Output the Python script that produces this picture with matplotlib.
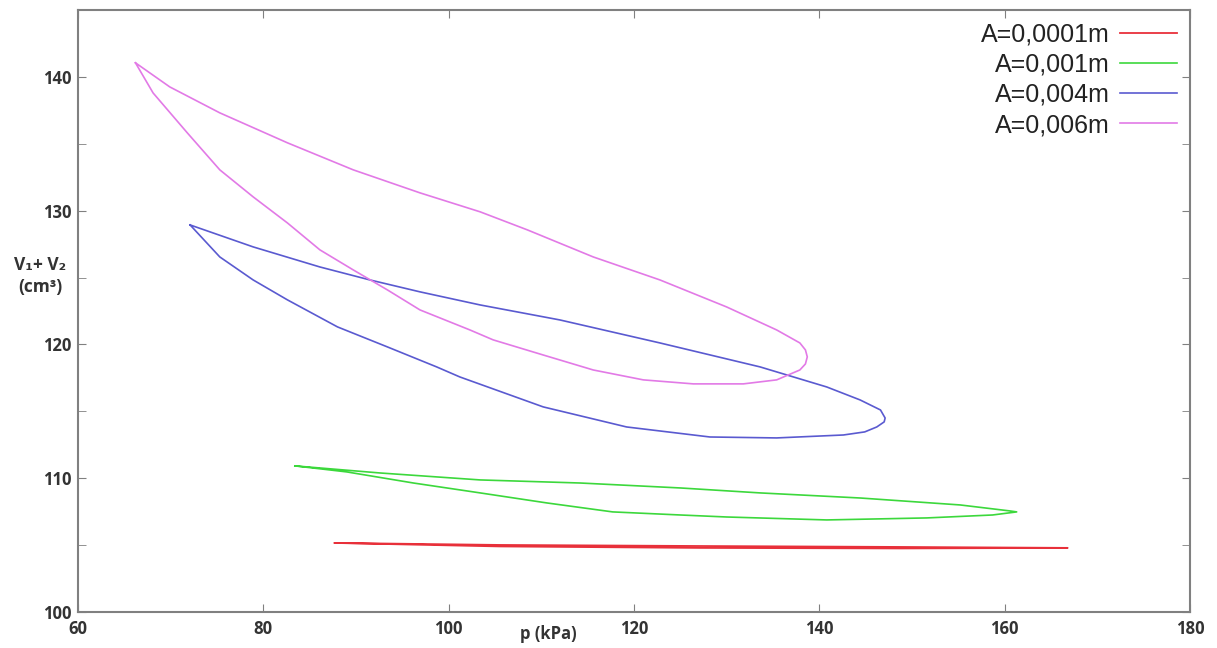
import numpy as np
import matplotlib.pyplot as plt

# ---- data: closed p-V loops (p in kPa, V1+V2 in cm^3)
p_0001 = [87.7, 105.5, 127.1, 148.7, 166.8, 148.7, 127.1, 105.5, 87.7]
v_0001 = [105.16, 105.01, 104.93, 104.86, 104.79, 104.75, 104.79, 104.90, 105.16]

p_001 = [83.4, 92.6, 103.4, 114.2, 125.0, 133.6, 144.4, 155.2, 160.6, 161.3,
         158.7, 151.6, 140.8, 130.0, 125.0, 117.7, 110.6, 103.4, 96.2, 89.0, 83.4]
v_001 = [110.92, 110.39, 109.87, 109.64, 109.27, 108.90, 108.52, 108.00, 107.55, 107.48,
         107.25, 107.03, 106.88, 107.10, 107.25, 107.48, 108.15, 108.90, 109.64, 110.47, 110.92]

p_004 = [72.1, 78.9, 86.1, 91.5, 96.9, 103.4, 112.0, 122.8, 133.6, 140.8, 144.4, 146.6, 147.1,
         147.0, 146.2, 144.9, 142.6, 135.4, 128.2, 119.2, 110.2, 101.2, 98.7, 93.4, 88.0, 82.6,
         78.9, 75.3, 72.1]
v_004 = [128.93, 127.29, 125.79, 124.82, 123.93, 122.95, 121.83, 120.11, 118.32, 116.82, 115.85, 115.10, 114.50,
         114.21, 113.83, 113.46, 113.23, 113.01, 113.08, 113.83, 115.33, 117.57, 118.32, 119.81, 121.31, 123.33,
         124.82, 126.54, 128.93]

p_006 = [66.2, 69.9, 75.3, 82.6, 89.7, 96.9, 103.4, 108.5, 115.6, 122.8, 130.0, 135.4, 137.9, 138.5, 138.7,
         138.5, 137.9, 135.4, 131.8, 126.4, 121.0, 115.6, 110.2, 104.8, 102.3, 96.9, 93.4, 89.7, 86.1, 82.6,
         78.9, 75.3, 71.8, 68.1, 66.2]
v_006 = [141.05, 139.25, 137.31, 135.07, 133.05, 131.33, 129.91, 128.56, 126.54, 124.82, 122.80, 121.08, 120.11, 119.59, 119.07,
         118.54, 118.09, 117.35, 117.05, 117.05, 117.35, 118.09, 119.21, 120.34, 121.08, 122.58, 124.07, 125.57, 127.07, 129.08,
         131.03, 133.05, 135.81, 138.80, 141.05]

labels = ["A=0,0001m", "A=0,001m", "A=0,004m", "A=0,006m"]
colors = ["#e8303a", "#3cd83c", "#5a5ad0", "#e27ae6"]

plt.rcParams['font.family'] = ['Open Sans', 'DejaVu Sans']

fig = plt.figure(figsize=(12.17, 6.48), dpi=100)
ax = fig.add_axes([0.0641, 0.0556, 0.9137, 0.929])

ax.plot(p_0001, v_0001, color=colors[0], lw=1.3, label=labels[0])
ax.plot(p_001, v_001, color=colors[1], lw=1.2, label=labels[1])
ax.plot(p_004, v_004, color=colors[2], lw=1.2, label=labels[2])
ax.plot(p_006, v_006, color=colors[3], lw=1.2, label=labels[3])

ax.set_xlim(60, 180)
ax.set_ylim(100, 145)
ax.set_xticks(np.arange(60, 181, 20))
ax.set_yticks(np.arange(100, 141, 10))
ax.set_yticks(np.arange(105, 146, 10), minor=True)
ax.tick_params(which='both', direction='in', top=True, right=True, color='#808080')
ax.tick_params(which='major', length=6, labelsize=12, pad=5)
ax.tick_params(which='minor', length=6)
ax.tick_params(axis='x', pad=6)
for lab in ax.get_xticklabels() + ax.get_yticklabels():
    lab.set_fontweight('bold')
    lab.set_color('#333333')
for s in ax.spines.values():
    s.set_color('#808080')
    s.set_linewidth(1.5)

ax.set_xlabel("p (kPa)", fontsize=12, fontweight='bold', color='#333333')
ax.xaxis.set_label_coords(0.4225, -0.022)
ax.text(-0.034, 0.558, "V\u2081+ V\u2082\n(cm\u00b3)", transform=ax.transAxes, ha='center', va='center',
        fontsize=12.5, fontweight='bold', color='#333333', linespacing=1.25)

leg = ax.legend(loc='upper right', frameon=False, markerfirst=False,
                prop={'family': 'Liberation Sans', 'size': 18},
                handlelength=2.3, labelspacing=0.25, borderaxespad=0.1, handletextpad=0.4)
for t in leg.get_texts():
    t.set_color('#222222')
    t.set_ha('right')

fig.savefig("out.png", dpi=100)
